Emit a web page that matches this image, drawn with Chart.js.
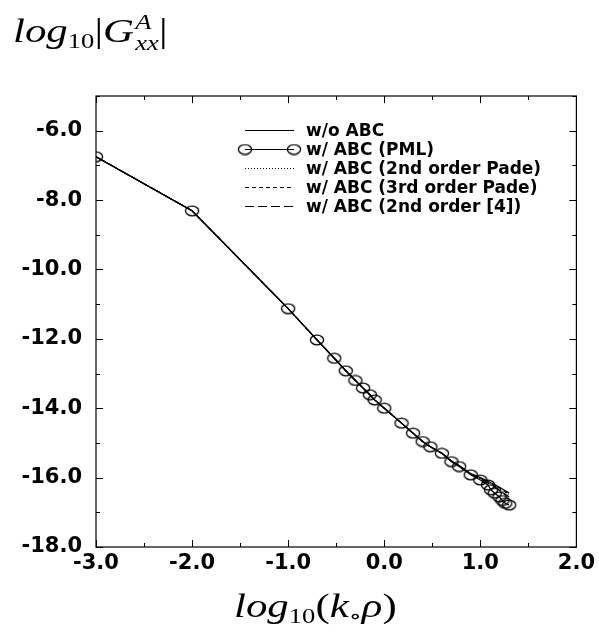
<!DOCTYPE html>
<html>
<head>
<meta charset="utf-8">
<script src="https://cdn.jsdelivr.net/npm/chart.js@4.4.1/dist/chart.umd.min.js"></script>
<style>
  html, body { margin: 0; padding: 0; background: #fff; }
  #wrap { position: relative; width: 599px; height: 635px; }
  canvas { position: absolute; left: 0; top: 0; }
  .math {
    position: absolute;
    font-family: "Liberation Serif", "DejaVu Serif", serif;
    font-size: 33px;
    color: #000;
    white-space: nowrap;
    transform-origin: left top;
    transform: scaleX(1.3);
    line-height: 1;
  }
  .math i { font-style: italic; }
  .math .sub { font-size: 0.62em; vertical-align: -0.28em; font-style: normal; }
  .math .ss { display: inline-block; vertical-align: -0.42em; font-size: 0.62em; line-height: 1.05; margin-left: 1px; }
  .math .ss span { display: block; font-style: italic; }
</style>
</head>
<body>
<div id="wrap">
  <canvas id="chart" width="599" height="635"></canvas>
  <div class="math" id="ytitle" style="left:13px; top:12px;"><i>log</i><span class="sub">10</span>|<i>G</i><span class="ss"><span>A</span><span>xx</span></span>|</div>
  <div class="math" id="xtitle" style="left:234px; top:590px;"><i>log</i><span class="sub">10</span>(<i>k</i><span class="sub">∘</span><i>ρ</i>)</div>
</div>
<script>
// tick labels
const xTickValues = [-3, -2, -1, 0, 1, 2];
const yTickValues = [-18, -16, -14, -12, -10, -8, -6];

// legend names
const seriesNames = [
  'w/o ABC',
  'w/ ABC (PML)',
  'w/ ABC (2nd order Pade)',
  'w/ ABC (3rd order Pade)',
  'w/ ABC (2nd order [4])'
];

// log10(k0 rho) sample positions
const logRho = [-3.0, -2.0, -1.0, -0.7, -0.52, -0.4, -0.3, -0.22, -0.15, -0.1, 0.0,
  0.18, 0.3, 0.4, 0.48, 0.6, 0.7, 0.78, 0.9, 1.0, 1.08, 1.11, 1.15, 1.2, 1.23, 1.26, 1.3];

const pmlValues = [-6.75, -8.31, -11.13, -12.03, -12.56, -12.92, -13.2, -13.42, -13.61, -13.76, -14.0,
  -14.43, -14.72, -14.96, -15.11, -15.3, -15.54, -15.68, -15.92, -16.07, -16.21, -16.35, -16.45, -16.56, -16.66, -16.74, -16.79];

const noAbcValues = [-6.75, -8.31, -11.13, -12.03, -12.56, -12.92, -13.2, -13.42, -13.61, -13.76, -14.0,
  -14.43, -14.72, -14.96, -15.11, -15.3, -15.52, -15.65, -15.88, -16.0, -16.1, -16.15, -16.2, -16.28, -16.33, -16.38, -16.44];

const pade2Values = [-6.75, -8.31, -11.13, -12.03, -12.56, -12.92, -13.2, -13.42, -13.61, -13.76, -14.0,
  -14.43, -14.72, -14.96, -15.11, -15.3, -15.53, -15.66, -15.9, -16.02, -16.13, -16.18, -16.24, -16.32, -16.38, -16.43, -16.5];

const pade3Values = [-6.75, -8.31, -11.13, -12.03, -12.56, -12.92, -13.2, -13.42, -13.61, -13.76, -14.0,
  -14.43, -14.72, -14.96, -15.11, -15.3, -15.52, -15.66, -15.89, -16.01, -16.12, -16.17, -16.22, -16.3, -16.36, -16.41, -16.47];

const ref4Values = [-6.75, -8.31, -11.13, -12.03, -12.56, -12.92, -13.2, -13.42, -13.61, -13.76, -14.0,
  -14.43, -14.72, -14.96, -15.11, -15.3, -15.53, -15.67, -15.91, -16.04, -16.16, -16.22, -16.28, -16.37, -16.43, -16.49, -16.55];

// slightly flattened circle used as the PML marker
function ellipseMarker() {
  const c = document.createElement('canvas');
  c.width = 16; c.height = 12;
  const g = c.getContext('2d');
  g.strokeStyle = '#000';
  g.lineWidth = 1.3;
  g.beginPath();
  g.ellipse(8, 6, 6.6, 4.8, 0, 0, Math.PI * 2);
  g.stroke();
  return c;
}
const marker = ellipseMarker();

const pts = (ys) => logRho.map((x, i) => ({ x: x, y: ys[i] }));

const lineStyle = (label, ys, dash) => ({
  label: label,
  data: pts(ys),
  borderColor: '#000',
  borderWidth: 1.2,
  borderDash: dash,
  pointRadius: 0,
  fill: false,
  tension: 0
});

const datasets = [
  lineStyle(seriesNames[0], noAbcValues, []),
  {
    label: seriesNames[1],
    data: pts(pmlValues),
    borderColor: '#000',
    borderWidth: 1.2,
    pointStyle: marker,
    pointRadius: 6,
    fill: false,
    tension: 0
  },
  lineStyle(seriesNames[2], pade2Values, [1, 2]),
  lineStyle(seriesNames[3], pade3Values, [4, 3]),
  lineStyle(seriesNames[4], ref4Values, [9, 4])
];

// box frame + inward ticks on all four sides
const framePlugin = {
  id: 'frame',
  afterDraw(chart) {
    const { ctx, chartArea: a, scales } = chart;
    ctx.save();
    ctx.strokeStyle = '#000';
    ctx.lineWidth = 1.2;
    ctx.strokeRect(a.left, a.top, a.right - a.left, a.bottom - a.top);
    ctx.lineWidth = 1;
    ctx.beginPath();
    for (let v = -3; v <= 2.001; v += 0.5) {
      const px = Math.round(scales.x.getPixelForValue(v)) + 0.5;
      const len = Math.abs(v - Math.round(v)) < 0.01 ? 7 : 4;
      ctx.moveTo(px, a.bottom); ctx.lineTo(px, a.bottom - len);
      ctx.moveTo(px, a.top); ctx.lineTo(px, a.top + len);
    }
    for (let v = -18; v <= -5; v += 1) {
      const py = Math.round(scales.y.getPixelForValue(v)) + 0.5;
      const len = v % 2 === 0 ? 7 : 4;
      ctx.moveTo(a.left, py); ctx.lineTo(a.left + len, py);
      ctx.moveTo(a.right, py); ctx.lineTo(a.right - len, py);
    }
    ctx.stroke();
    ctx.restore();
  }
};

// legend drawn inside the plot, upper right
const legendPlugin = {
  id: 'insideLegend',
  afterDraw(chart) {
    const { ctx } = chart;
    const x0 = 245, x1 = 294, tx = 306, y0 = 130, dy = 19;
    ctx.save();
    ctx.font = 'bold 17px "DejaVu Sans", sans-serif';
    ctx.textBaseline = 'middle';
    ctx.fillStyle = '#000';
    chart.data.datasets.forEach((ds, i) => {
      const y = y0 + i * dy + 0.5;
      ctx.strokeStyle = '#000';
      ctx.lineWidth = 1.2;
      ctx.setLineDash(ds.borderDash || []);
      ctx.beginPath();
      ctx.moveTo(x0, y); ctx.lineTo(x1, y);
      ctx.stroke();
      ctx.setLineDash([]);
      if (ds.pointStyle === marker) {
        ctx.drawImage(marker, x0 - 8, y - 6);
        ctx.drawImage(marker, x1 - 8, y - 6);
      }
      ctx.fillText(ds.label, tx, y + 1);
    });
    ctx.restore();
  }
};

const tickFont = { family: '"DejaVu Sans", sans-serif', size: 21, weight: 'bold' };

new Chart(document.getElementById('chart').getContext('2d'), {
  type: 'line',
  data: { datasets: datasets },
  options: {
    responsive: false,
    animation: false,
    layout: { padding: { top: 96, left: 0, right: 22, bottom: 48 } },
    plugins: {
      legend: { display: false },
      tooltip: { enabled: false }
    },
    scales: {
      x: {
        type: 'linear',
        min: -3,
        max: 2,
        grid: { display: false, drawTicks: false },
        border: { display: false },
        afterBuildTicks: (s) => { s.ticks = xTickValues.map(v => ({ value: v })); },
        afterFit: (s) => { s.height = 40; },
        ticks: {
          color: '#000',
          font: tickFont,
          padding: 4,
          maxRotation: 0,
          callback: (v) => Number(v).toFixed(1)
        }
      },
      y: {
        type: 'linear',
        min: -18,
        max: -5,
        grid: { display: false, drawTicks: false },
        border: { display: false },
        afterBuildTicks: (s) => { s.ticks = yTickValues.map(v => ({ value: v })); },
        afterFit: (s) => { s.width = 96; },
        ticks: {
          color: '#000',
          font: tickFont,
          padding: 14,
          callback: (v) => Number(v).toFixed(1)
        }
      }
    }
  },
  plugins: [framePlugin, legendPlugin]
});
</script>
</body>
</html>
